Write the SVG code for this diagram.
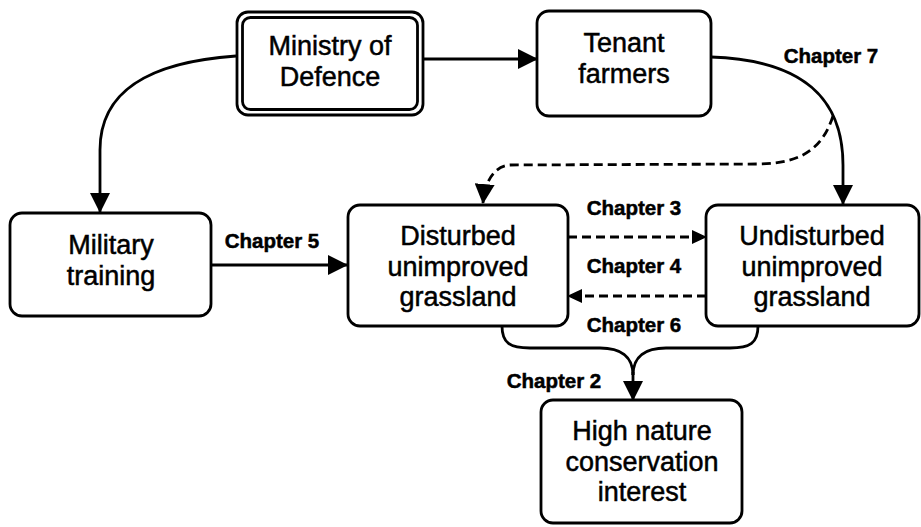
<svg xmlns="http://www.w3.org/2000/svg" width="921" height="527" viewBox="0 0 921 527">
  <style>
    .box { fill: #fff; stroke: #000; stroke-width: 2.8; }
    .label { font-family: "Liberation Sans", Arial, Helvetica, sans-serif; font-size: 27px; text-anchor: middle; fill: #000; stroke: #000; stroke-width: 0.5; }
    .chap { font-family: "Liberation Sans", Arial, Helvetica, sans-serif; font-size: 20.5px; font-weight: bold; text-anchor: middle; fill: #000; stroke: #000; stroke-width: 0.5; }
    .link { fill: none; stroke: #000; stroke-width: 2.8; }
    .dash { stroke-dasharray: 9 5; }
  </style>
  <defs>
    <marker id="head" viewBox="0 0 20 20" refX="19" refY="10" markerWidth="20" markerHeight="20" orient="auto" markerUnits="userSpaceOnUse">
      <path d="M0,0 L20,10 L0,20 z" fill="#000"/>
    </marker>
    <marker id="headSmall" viewBox="0 0 15 14" refX="14" refY="7" markerWidth="15" markerHeight="14" orient="auto" markerUnits="userSpaceOnUse">
      <path d="M0,0 L15,7 L0,14 z" fill="#000"/>
    </marker>
  </defs>

  <rect width="921" height="527" fill="#fff"/>

  <!-- connectors -->
  <g id="connectors">
    <path class="link" d="M423,59 L537,59" marker-end="url(#head)"/>
    <path class="link" d="M236,56 C150,62 100,90 100,150 L100,212" marker-end="url(#head)"/>
    <path class="link" d="M211,265 L347,265" marker-end="url(#head)"/>
    <path class="link" d="M711,57 C805,60 843,100 843,165 L843,204" marker-end="url(#head)"/>
    <path class="link dash" d="M833,116 C822,150 800,163 760,164 L510,165 C495,166 485,180 483,203" marker-end="url(#head)"/>
    <path class="link dash" d="M568,237 L706,237" marker-end="url(#headSmall)"/>
    <path class="link dash" d="M706,296 L568,296" marker-end="url(#headSmall)"/>
    <path class="link" d="M502,326 C502,343 510,348 530,348 L600,348 C620,348 633,356 633,375"/>
    <path class="link" d="M758,326 C758,343 750,348 730,348 L666,348 C646,348 633,356 633,375"/>
    <path class="link" d="M633,372 L633,400" marker-end="url(#head)"/>
  </g>

  <!-- connector labels -->
  <g id="chapter-labels">
    <text class="chap" x="831" y="63">Chapter 7</text>
    <text class="chap" x="272" y="248">Chapter 5</text>
    <text class="chap" x="634" y="215">Chapter 3</text>
    <text class="chap" x="634" y="273">Chapter 4</text>
    <text class="chap" x="634" y="332">Chapter 6</text>
    <text class="chap" x="554" y="388">Chapter 2</text>
  </g>

  <!-- nodes -->
  <g id="ministry-of-defence">
    <rect class="box" x="237" y="12" width="186" height="103" rx="11" stroke-width="3.2"/>
    <rect class="box" x="242.5" y="17.5" width="175" height="92" rx="8" stroke-width="2.2"/>
    <text class="label" x="330" y="55">Ministry of</text>
    <text class="label" x="330" y="86">Defence</text>
  </g>

  <g id="tenant-farmers">
    <rect class="box" x="537" y="11" width="174" height="105" rx="12"/>
    <text class="label" x="624" y="52">Tenant</text>
    <text class="label" x="624" y="83">farmers</text>
  </g>

  <g id="military-training">
    <rect class="box" x="10" y="213" width="201" height="103" rx="12"/>
    <text class="label" x="111" y="254">Military</text>
    <text class="label" x="111" y="285">training</text>
  </g>

  <g id="disturbed-grassland">
    <rect class="box" x="348" y="205" width="220" height="121" rx="12"/>
    <text class="label" x="458" y="245">Disturbed</text>
    <text class="label" x="458" y="276">unimproved</text>
    <text class="label" x="458" y="306">grassland</text>
  </g>

  <g id="undisturbed-grassland">
    <rect class="box" x="706" y="205" width="213" height="121" rx="12"/>
    <text class="label" x="812" y="245">Undisturbed</text>
    <text class="label" x="812" y="276">unimproved</text>
    <text class="label" x="812" y="306">grassland</text>
  </g>

  <g id="high-nature-conservation">
    <rect class="box" x="541" y="400" width="201" height="123" rx="12"/>
    <text class="label" x="642" y="440">High nature</text>
    <text class="label" x="642" y="471">conservation</text>
    <text class="label" x="642" y="501">interest</text>
  </g>
</svg>
